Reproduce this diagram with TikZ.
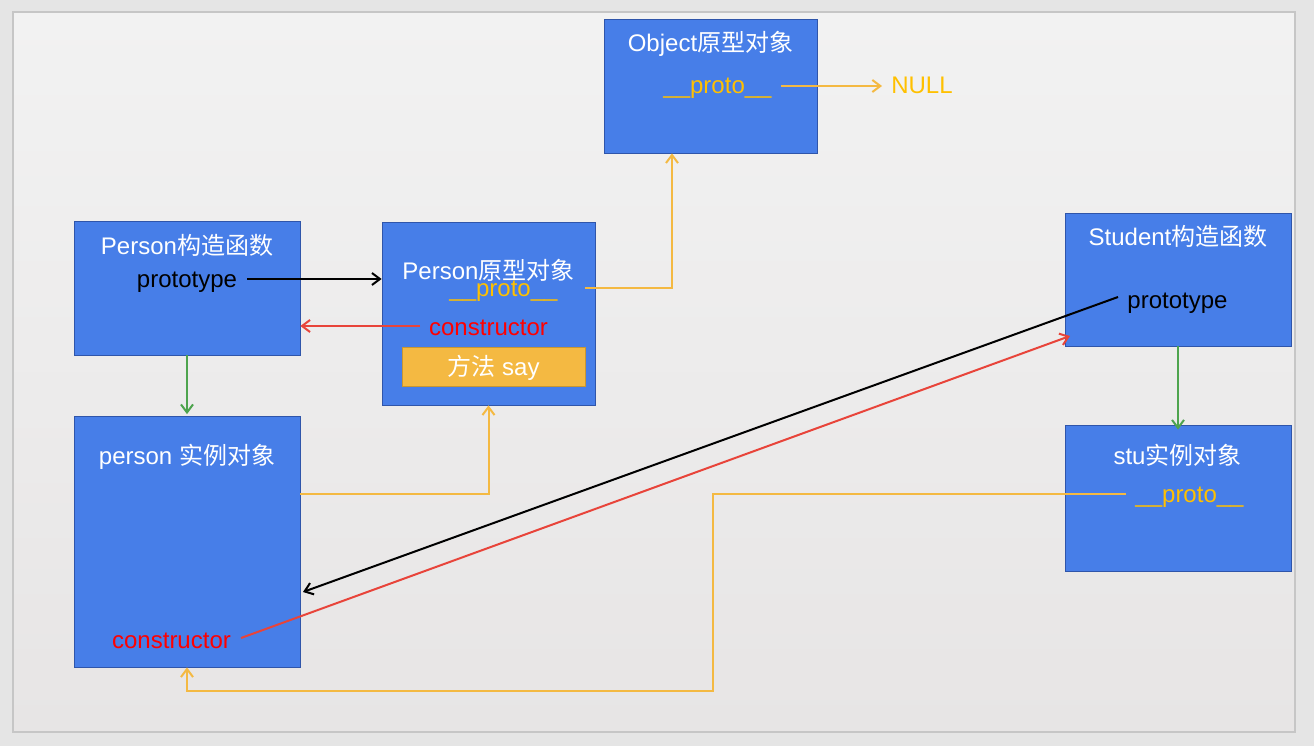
\documentclass[tikz,border=0pt]{standalone}
\usepackage{fontspec}
\setmainfont{Liberation Sans}
\newfontfamily\cjk{Noto Sans CJK SC}
\usetikzlibrary{arrows.meta}
\definecolor{boxblue}{RGB}{71,126,232}
\definecolor{boxedge}{RGB}{47,85,170}
\definecolor{sayfill}{RGB}{244,185,66}
\definecolor{sayedge}{RGB}{200,150,50}
\definecolor{orline}{RGB}{244,185,66}
\definecolor{protoyel}{RGB}{255,192,0}
\definecolor{redtxt}{RGB}{255,0,0}
\definecolor{redline}{RGB}{232,68,58}
\definecolor{grn}{RGB}{78,164,78}
\definecolor{outerbg}{RGB}{229,229,229}
\definecolor{bgtop}{RGB}{242,242,242}
\definecolor{bgbot}{RGB}{231,229,229}
\definecolor{bgedge}{RGB}{198,198,198}
\begin{document}
\begin{tikzpicture}[x=1pt,y=-1pt,
  every node/.style={font=\fontsize{24}{28}\selectfont},
  objbox/.style={draw=boxedge,line width=0.8pt,fill=boxblue,inner sep=0pt,minimum width=#1},
  ttl/.style={text=white,inner sep=0pt,anchor=base},
  lbl/.style={inner sep=0pt,anchor=base},
  conn/.style={line width=2pt,-{Straight Barb[length=8pt,width=12pt,line width=2pt]}},
  blk/.style={conn,draw=black},
  rdl/.style={conn,draw=redline},
  gnl/.style={conn,draw=grn},
  orl/.style={conn,draw=orline}]
\useasboundingbox (0,0) rectangle (1314,746);
\fill[outerbg] (0,0) rectangle (1314,746);
\shade[top color=bgtop,bottom color=bgbot,draw=bgedge,line width=1.2pt] (13,12) rectangle (1295,732);

% boxes
\node[objbox, minimum width=213pt, minimum height=134pt] (obj) at (710.5,86) {};
\node[objbox, minimum width=226pt, minimum height=134pt] (pctor) at (187,288) {};
\node[objbox, minimum width=213pt, minimum height=183pt] (pproto) at (488.5,313.5) {};
\node[objbox, minimum width=226pt, minimum height=251pt] (pinst) at (187,541.5) {};
\node[objbox, minimum width=226pt, minimum height=133pt] (sctor) at (1178,279.5) {};
\node[objbox, minimum width=226pt, minimum height=146pt] (stu) at (1178,498) {};
\node[draw=sayedge,line width=0.8pt,fill=sayfill,minimum width=183pt,minimum height=39pt,inner sep=0pt] (say) at (493.5,366.5) {};

% texts
\node[ttl] (objt) at (710.5,52) {Object{\cjk 原型对象}};
\node[lbl,text=protoyel] (objp) at (717.5,94) {\_\_proto\_\_};
\node[lbl,text=protoyel] (null) at (922,94) {NULL};
\node[ttl] (pctort) at (187,254) {Person{\cjk 构造函数}};
\node[lbl,text=black] (ptype) at (187,287) {prototype};
\node[ttl] (pprotot) at (488.5,279) {Person{\cjk 原型对象}};
\node[lbl,text=protoyel] (pprotop) at (503.5,296) {\_\_proto\_\_};
\node[lbl,text=redtxt] (pprotoc) at (488.5,335) {constructor};
\node[ttl] (sayt) at (493.5,375) {{\cjk 方法} say};
\node[ttl] (pinstt) at (187,464) {person {\cjk 实例对象}};
\node[lbl,text=redtxt] (pinstc) at (171.5,648) {constructor};
\node[ttl] (sctort) at (1178,245) {Student{\cjk 构造函数}};
\node[lbl,text=black] (stype) at (1177.5,308) {prototype};
\node[ttl] (stut) at (1177.5,464) {stu{\cjk 实例对象}};
\node[lbl,text=protoyel] (stup) at (1189.5,502) {\_\_proto\_\_};

% coordinates for free ends
\coordinate (a1) at (247,279);
\coordinate (a2) at (420,326);
\coordinate (a3) at (300,494);
\coordinate (a4) at (585,288);
\coordinate (a5) at (672,0);
\coordinate (a6) at (781,86);
\coordinate (a7) at (882,86);
\coordinate (b1) at (1118,297);
\coordinate (b2) at (303,592);
\coordinate (r1) at (241,638);
\coordinate (r2) at (1070,336);
\coordinate (o1) at (1126,494);
\coordinate (o2) at (713,691);

% connectors
\draw[blk] (a1) -- (a1 -| pproto.west);
\draw[rdl] (a2) -- (a2 -| pctor.east);
\draw[gnl] (pctor.south) -- ([yshift=1.5pt]pinst.north);
\draw[orl] (a3) -| (pproto.south);
\draw[orl] (a4) -| (a5 |- obj.south);
\draw[orl] (a6) -- (a7);
\draw[blk] (b1) -- (b2);
\draw[rdl] (r1) -- (r2);
\draw[gnl] (sctor.south) -- ([yshift=-5pt]stu.north);
\draw[orl] (o1) -- (o1 -| o2) -- (o2) -| (pinst.south);
\end{tikzpicture}
\end{document}
